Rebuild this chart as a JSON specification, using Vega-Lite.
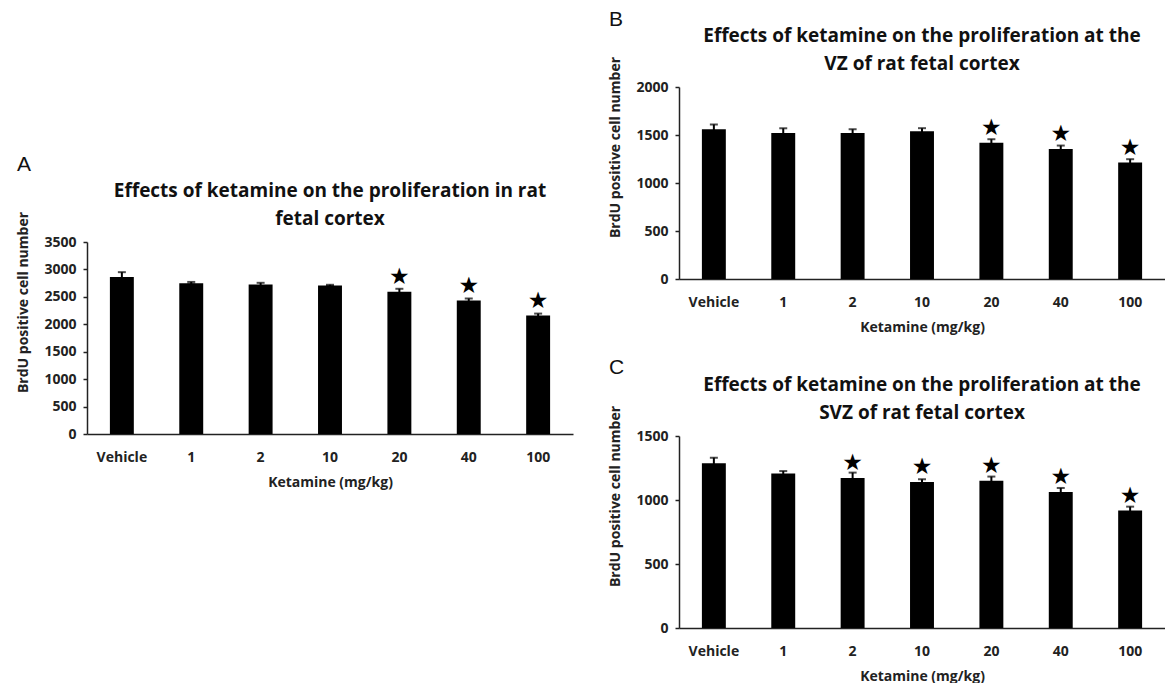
{
  "$schema": "https://vega.github.io/schema/vega-lite/v6.json",
  "background": "white",
  "padding": {"left": 16, "top": 9, "right": 0, "bottom": 0},
  "config": {
    "view": {"stroke": null},
    "font": "Open Sans",
    "axis": {
      "domainColor": "#222", "domainWidth": 1.5, "tickColor": "#222", "tickWidth": 1.5,
      "labelColor": "#222", "titleColor": "#222", "grid": false,
      "labelFont": "Open Sans", "labelFontWeight": "bold", "labelFontSize": 14,
      "titleFont": "Open Sans", "titleFontWeight": "bold"
    },
    "axisX": {"ticks": false, "labelAngle": 0, "labelPadding": 16, "titleFontSize": 14, "titlePadding": 11},
    "axisY": {"tickSize": 4, "labelPadding": 7, "titleFontSize": 14, "titlePadding": 13, "titleY": 60, "format": "d"},
    "title": {"font": "Open Sans", "fontWeight": "bold", "fontSize": 19, "lineHeight": 28, "color": "#111", "offset": -18}
  },
  "datasets": {
    "A": [
      {"dose": "Vehicle", "mean": 2860, "sem": 90, "star": ""},
      {"dose": "1", "mean": 2750, "sem": 22, "star": ""},
      {"dose": "2", "mean": 2726, "sem": 30, "star": ""},
      {"dose": "10", "mean": 2708, "sem": 12, "star": ""},
      {"dose": "20", "mean": 2592, "sem": 55, "star": "★"},
      {"dose": "40", "mean": 2433, "sem": 37, "star": "★"},
      {"dose": "100", "mean": 2159, "sem": 36, "star": "★"}
    ],
    "B": [
      {"dose": "Vehicle", "mean": 1560, "sem": 50, "star": ""},
      {"dose": "1", "mean": 1522, "sem": 48, "star": ""},
      {"dose": "2", "mean": 1522, "sem": 38, "star": ""},
      {"dose": "10", "mean": 1539, "sem": 32, "star": ""},
      {"dose": "20", "mean": 1418, "sem": 38, "star": "★"},
      {"dose": "40", "mean": 1355, "sem": 35, "star": "★"},
      {"dose": "100", "mean": 1213, "sem": 35, "star": "★"}
    ],
    "C": [
      {"dose": "Vehicle", "mean": 1287, "sem": 44, "star": ""},
      {"dose": "1", "mean": 1208, "sem": 18, "star": ""},
      {"dose": "2", "mean": 1172, "sem": 42, "star": "★"},
      {"dose": "10", "mean": 1141, "sem": 21, "star": "★"},
      {"dose": "20", "mean": 1151, "sem": 32, "star": "★"},
      {"dose": "40", "mean": 1063, "sem": 31, "star": "★"},
      {"dose": "100", "mean": 917, "sem": 31, "star": "★"}
    ],
    "empty": []
  },
  "hconcat": [
    {
      "spacing": 0,
      "vconcat": [
        {"width": 1, "height": 67, "data": {"name": "empty"}, "mark": "point"},
        {
          "title": {"text": "A", "anchor": "start", "font": "Liberation Sans", "fontWeight": "normal", "fontSize": 21, "offset": 7, "color": "#111"},
          "vconcat": [
            {
              "width": 486, "height": 192,
              "data": {"name": "A"},
              "title": {"text": ["Effects of ketamine on the proliferation in rat", "fetal cortex"]},
              "encoding": {
                "x": {"field": "dose", "type": "ordinal", "sort": ["Vehicle", "1", "2", "10", "20", "40", "100"],
                      "scale": {"paddingInner": 0.655, "paddingOuter": 0.33}, "title": "Ketamine (mg/kg)"},
                "y": {"field": "mean", "type": "quantitative", "scale": {"domain": [0, 3500]},
                      "axis": {"values": [0, 500, 1000, 1500, 2000, 2500, 3000, 3500]}, "title": "BrdU positive cell number"}
              },
              "layer": [
                {"mark": {"type": "bar", "color": "black"}},
                {"mark": {"type": "errorbar", "color": "black", "thickness": 2, "ticks": {"size": 8, "thickness": 2}}, "encoding": {"yError": {"field": "sem"}}},
                {"mark": {"type": "text", "font": "DejaVu Sans", "fontSize": 23, "baseline": "middle", "dy": -15, "color": "black"}, "encoding": {"text": {"field": "star"}}}
              ]
            }
          ]
        }
      ]
    },
    {
      "spacing": 23,
      "vconcat": [
        {
          "title": {"text": "B", "anchor": "start", "font": "Liberation Sans", "fontWeight": "normal", "fontSize": 21, "offset": -3, "color": "#111"},
          "vconcat": [
            {
              "width": 486, "height": 192,
              "data": {"name": "B"},
              "title": {"text": ["Effects of ketamine on the proliferation at the", "VZ of rat fetal cortex"]},
              "encoding": {
                "x": {"field": "dose", "type": "ordinal", "sort": ["Vehicle", "1", "2", "10", "20", "40", "100"],
                      "scale": {"paddingInner": 0.655, "paddingOuter": 0.33}, "title": "Ketamine (mg/kg)"},
                "y": {"field": "mean", "type": "quantitative", "scale": {"domain": [0, 2000]},
                      "axis": {"values": [0, 500, 1000, 1500, 2000]}, "title": "BrdU positive cell number"}
              },
              "layer": [
                {"mark": {"type": "bar", "color": "black"}},
                {"mark": {"type": "errorbar", "color": "black", "thickness": 2, "ticks": {"size": 8, "thickness": 2}}, "encoding": {"yError": {"field": "sem"}}},
                {"mark": {"type": "text", "font": "DejaVu Sans", "fontSize": 23, "baseline": "middle", "dy": -15, "color": "black"}, "encoding": {"text": {"field": "star"}}}
              ]
            }
          ]
        },
        {
          "title": {"text": "C", "anchor": "start", "font": "Liberation Sans", "fontWeight": "normal", "fontSize": 21, "offset": -2, "color": "#111"},
          "vconcat": [
            {
              "width": 486, "height": 192,
              "data": {"name": "C"},
              "title": {"text": ["Effects of ketamine on the proliferation at the", "SVZ of rat fetal cortex"]},
              "encoding": {
                "x": {"field": "dose", "type": "ordinal", "sort": ["Vehicle", "1", "2", "10", "20", "40", "100"],
                      "scale": {"paddingInner": 0.655, "paddingOuter": 0.33}, "title": "Ketamine (mg/kg)"},
                "y": {"field": "mean", "type": "quantitative", "scale": {"domain": [0, 1500]},
                      "axis": {"values": [0, 500, 1000, 1500]}, "title": "BrdU positive cell number"}
              },
              "layer": [
                {"mark": {"type": "bar", "color": "black"}},
                {"mark": {"type": "errorbar", "color": "black", "thickness": 2, "ticks": {"size": 8, "thickness": 2}}, "encoding": {"yError": {"field": "sem"}}},
                {"mark": {"type": "text", "font": "DejaVu Sans", "fontSize": 23, "baseline": "middle", "dy": -15, "color": "black"}, "encoding": {"text": {"field": "star"}}}
              ]
            }
          ]
        }
      ]
    }
  ],
  "spacing": 35
}
